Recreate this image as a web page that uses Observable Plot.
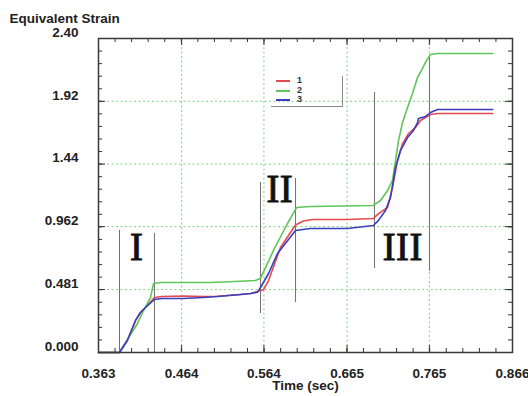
<!DOCTYPE html>
<html>
<head>
<meta charset="utf-8">
<script src="https://cdn.jsdelivr.net/npm/d3@7"></script>
<script src="https://cdn.jsdelivr.net/npm/@observablehq/plot@0.6"></script>
<style>
  html, body { margin: 0; padding: 0; background: #fff; }
  #wrap { position: relative; width: 528px; height: 396px; }
  #legend { position: absolute; left: 271px; top: 76px; width: 71px; height: 30px;
            border-right: 1px solid #8a8a8a; border-bottom: 1.5px solid #8a8a8a; }
  .row { position: absolute; left: 5px; height: 9px; font: bold 9px "Liberation Sans", Arial, sans-serif; }
  .sw { position: absolute; left: 0; top: 4px; width: 14px; height: 2px; }
  .lb { position: absolute; left: 21px; top: -1px; color: #333; }
</style>
</head>
<body>
<div id="wrap"></div>
<script>
// ---- data ----
const seriesNames = ["1", "2", "3"];
const seriesColors = ["#e24a4f", "#5fc65a", "#3a3fc0"];

const t1 = [0.363, 0.3885, 0.398, 0.408, 0.414, 0.4225, 0.431, 0.44, 0.466, 0.49, 0.508, 0.5355, 0.548, 0.56, 0.5635, 0.5696, 0.5841, 0.6024, 0.612, 0.623, 0.6655, 0.697, 0.7032, 0.7142, 0.7202, 0.7263, 0.7324, 0.7397, 0.7482, 0.7542, 0.7603, 0.7664, 0.7749, 0.842];
const v1 = [0, 0, 0.092, 0.245, 0.306, 0.359, 0.42, 0.428, 0.432, 0.428, 0.43, 0.443, 0.451, 0.474, 0.48, 0.55, 0.803, 0.975, 1.005, 1.017, 1.017, 1.024, 1.062, 1.108, 1.261, 1.468, 1.597, 1.674, 1.72, 1.773, 1.796, 1.819, 1.827, 1.827];

const t2 = [0.363, 0.3885, 0.3922, 0.4104, 0.4177, 0.4262, 0.4298, 0.4383, 0.50, 0.535, 0.5535, 0.5598, 0.5756, 0.5926, 0.6036, 0.6206, 0.697, 0.7056, 0.7142, 0.7202, 0.7239, 0.7275, 0.7324, 0.7385, 0.7445, 0.7506, 0.7567, 0.7603, 0.764, 0.7664, 0.7749, 0.842];
const v2 = [0, 0, 0.038, 0.222, 0.321, 0.42, 0.527, 0.535, 0.535, 0.545, 0.55, 0.566, 0.78, 0.986, 1.108, 1.116, 1.124, 1.162, 1.238, 1.315, 1.468, 1.62, 1.758, 1.873, 1.98, 2.102, 2.171, 2.217, 2.255, 2.278, 2.285, 2.285];

const t3 = [0.363, 0.3885, 0.398, 0.408, 0.414, 0.4225, 0.431, 0.44, 0.466, 0.49, 0.508, 0.5355, 0.548, 0.556, 0.5598, 0.5696, 0.5805, 0.6024, 0.6206, 0.6655, 0.697, 0.7032, 0.7117, 0.7178, 0.7239, 0.73, 0.7385, 0.7457, 0.7506, 0.7518, 0.7603, 0.7664, 0.7749, 0.842];
const v3 = [0, 0, 0.092, 0.245, 0.306, 0.359, 0.405, 0.413, 0.413, 0.42, 0.428, 0.443, 0.451, 0.46, 0.497, 0.604, 0.757, 0.933, 0.948, 0.948, 0.971, 1.01, 1.085, 1.185, 1.414, 1.544, 1.643, 1.697, 1.758, 1.789, 1.804, 1.834, 1.857, 1.857];

// phase boundary markers
const markerT  = [0.3885, 0.431, 0.5598, 0.6024, 0.6983, 0.7652];
const markerV1 = [0, 0, 0.298, 0.382, 0.642, 0.62];
const markerV2 = [0.933, 0.91, 1.30, 1.33, 1.987, 2.26];

// phase labels
const phaseLabels = ["I", "II", "III"];
const phaseT = [0.4092, 0.5829, 0.7324];
const phaseV = [0.803, 1.246, 0.803];

// axes
const xTicks = [0.363, 0.464, 0.564, 0.665, 0.765, 0.866];
const xTickLabels = ["0.363", "0.464", "0.564", "0.665", "0.765", "0.866"];
const yTicks = [0, 0.481, 0.962, 1.44, 1.92, 2.40];
const yTickLabels = ["0.000", "0.481", "0.962", "1.44", "1.92", "2.40"];
const xTitle = "Time (sec)";
const yTitle = "Equivalent Strain";

// ---- build ----
const W = 528, H = 396, mL = 98, mR = 16, mT = 38, mB = 44;
const pw = W - mL - mR, ph = H - mT - mB;
const xDom = [0.363, 0.866], yDom = [0, 2.40];

const rows = [];
[[t1, v1], [t2, v2], [t3, v3]].forEach(([ts, vs], k) => {
  ts.forEach((t, i) => rows.push({s: seriesNames[k], t, v: vs[i]}));
});
const markers = markerT.map((t, i) => ({t, v1: markerV1[i], v2: markerV2[i]}));
const phases = phaseLabels.map((text, i) => ({text, t: phaseT[i], v: phaseV[i]}));

const xMinor = d3.range(26).map(i => xDom[0] + i * (xDom[1] - xDom[0]) / 25);
const yMinor = d3.range(26).map(i => yDom[0] + i * (yDom[1] - yDom[0]) / 25);
const xMap = new Map(xTicks.map((d, i) => [d, xTickLabels[i]]));
const yMap = new Map(yTicks.map((d, i) => [d, yTickLabels[i]]));

const gridStyle = {stroke: "#7fd47f", strokeOpacity: 1, strokeWidth: 1, strokeDasharray: "2,2.5"};
const tickColor = "#333";
const font = "'Liberation Sans', Arial, sans-serif";

const chart = Plot.plot({
  width: W, height: H,
  marginLeft: mL, marginRight: mR, marginTop: mT, marginBottom: mB,
  style: {background: "#fff", fontFamily: font},
  x: {domain: xDom},
  y: {domain: yDom},
  color: {domain: seriesNames, range: seriesColors},
  marks: [
    Plot.gridX(xTicks.slice(1, -1), gridStyle),
    Plot.gridY(yTicks.slice(1, -1), gridStyle),
    Plot.ruleX(markers, {x: "t", y1: "v1", y2: "v2", stroke: "#707070", strokeWidth: 1}),
    Plot.line(rows.filter(d => d.s === "1"), {x: "t", y: "v", stroke: "s", strokeWidth: 1.6}),
    Plot.line(rows.filter(d => d.s === "2"), {x: "t", y: "v", stroke: "s", strokeWidth: 1.6}),
    Plot.line(rows.filter(d => d.s === "3"), {x: "t", y: "v", stroke: "s", strokeWidth: 1.6}),
    Plot.text(phases, {x: "t", y: "v", text: "text", fontFamily: "'Liberation Serif', 'DejaVu Serif', serif",
      fontSize: 40, fill: "#111", stroke: "#111", strokeWidth: 0.8}),
    // inward ticks: left / right
    Plot.tickY(yMinor, {y: d => d, insetRight: pw - 4, stroke: tickColor}),
    Plot.tickY(yTicks, {y: d => d, insetRight: pw - 7, stroke: tickColor}),
    Plot.tickY(yMinor, {y: d => d, insetLeft: pw - 4, stroke: tickColor}),
    Plot.tickY(yTicks, {y: d => d, insetLeft: pw - 7, stroke: tickColor}),
    // inward ticks: bottom / top
    Plot.tickX(xMinor, {x: d => d, insetTop: ph - 4, stroke: tickColor}),
    Plot.tickX(xTicks, {x: d => d, insetTop: ph - 7, stroke: tickColor}),
    Plot.tickX(xMinor, {x: d => d, insetBottom: ph - 4, stroke: tickColor}),
    Plot.tickX(xTicks, {x: d => d, insetBottom: ph - 7, stroke: tickColor}),
    Plot.frame({stroke: "#3a3a3a", strokeWidth: 1.5}),
    Plot.axisX(xTicks, {tickSize: 0, tickPadding: 16, tickFormat: d => xMap.get(d), label: null,
      fontSize: 13.5, fontWeight: "bold", fill: "#222"}),
    Plot.axisY(yTicks, {tickSize: 0, tickPadding: 20, dy: -6, tickFormat: d => yMap.get(d), label: null,
      fontSize: 13.5, fontWeight: "bold", fill: "#222"}),
    Plot.text([xTitle], {frameAnchor: "bottom", dy: 37, text: d => d, fontSize: 13.5, fontWeight: "bold", fill: "#222"}),
    Plot.text([yTitle], {frameAnchor: "top-left", dx: -89, dy: -25, text: d => d, textAnchor: "start",
      fontSize: 13.5, fontWeight: "bold", fill: "#222"})
  ]
});

const wrap = document.getElementById("wrap");
wrap.appendChild(chart);

// legend
const legend = document.createElement("div");
legend.id = "legend";
seriesNames.forEach((name, i) => {
  const row = document.createElement("div");
  row.className = "row";
  row.style.top = (0 + i * 9.5) + "px";
  const sw = document.createElement("div");
  sw.className = "sw";
  sw.style.background = seriesColors[i];
  const lb = document.createElement("div");
  lb.className = "lb";
  lb.textContent = name;
  row.appendChild(sw); row.appendChild(lb);
  legend.appendChild(row);
});
wrap.appendChild(legend);
</script>
</body>
</html>
